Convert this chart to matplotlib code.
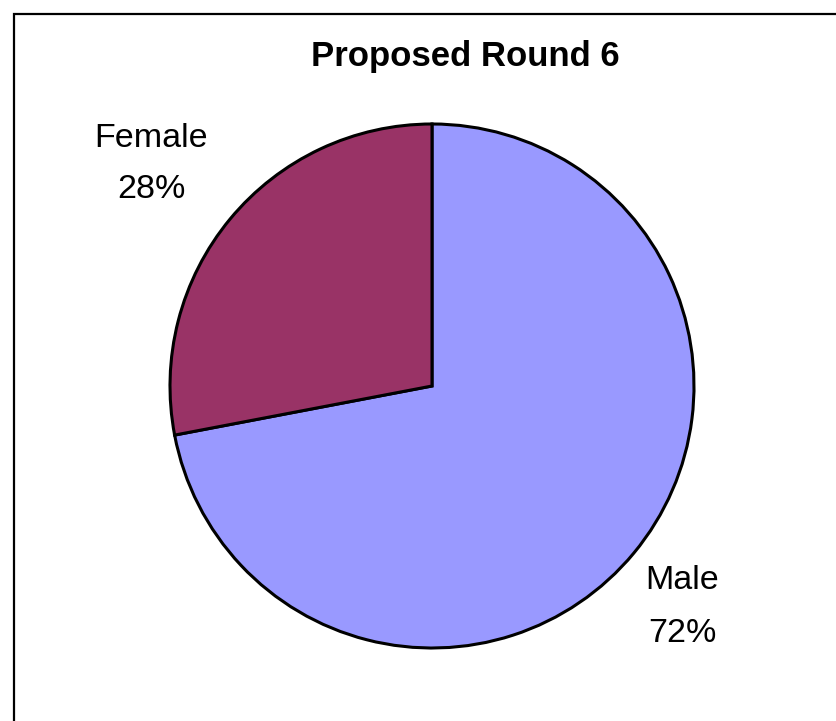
import matplotlib
matplotlib.use("Agg")
import matplotlib.pyplot as plt
from matplotlib.patches import Rectangle

categories = ["Male", "Female"]
values = [72, 28]
colors = ["#9999FF", "#993366"]
title = "Proposed Round 6"

W, H = 837, 721
fig = plt.figure(figsize=(W / 100, H / 100), dpi=100)
plt.rcParams['font.family'] = ['Liberation Sans', 'DejaVu Sans']

# outer frame (extends past right/bottom edges)
fig.patches.append(Rectangle((14 / W, -0.05), 1.1, (H - 14) / H + 0.05,
                             transform=fig.transFigure, fill=False,
                             edgecolor='black', linewidth=1.6))

cx, cy, r = 432, 386, 262
ax = fig.add_axes([(cx - r) / W, (H - cy - r) / H, 2 * r / W, 2 * r / H])
ax.pie(values, colors=colors, startangle=90, counterclock=False, radius=1,
       wedgeprops=dict(edgecolor='black', linewidth=2.2))
ax.set_xlim(-1, 1)
ax.set_ylim(-1, 1)
ax.set_aspect('equal')
ax.axis('off')

def fy(py):
    return 1 - py / H

fig.text(465 / W, fy(66), title, ha='center', va='baseline',
         fontsize=25, fontweight='bold')

label_pos = {"Male": (682, 589, 642), "Female": (151, 147, 198)}
for cat, v in zip(categories, values):
    x, y1, y2 = label_pos[cat]
    fig.text(x / W, fy(y1), cat, ha='center', va='baseline', fontsize=24.5)
    fig.text(x / W, fy(y2), f"{v}%", ha='center', va='baseline', fontsize=24.5)

fig.savefig("out.png", dpi=100)
